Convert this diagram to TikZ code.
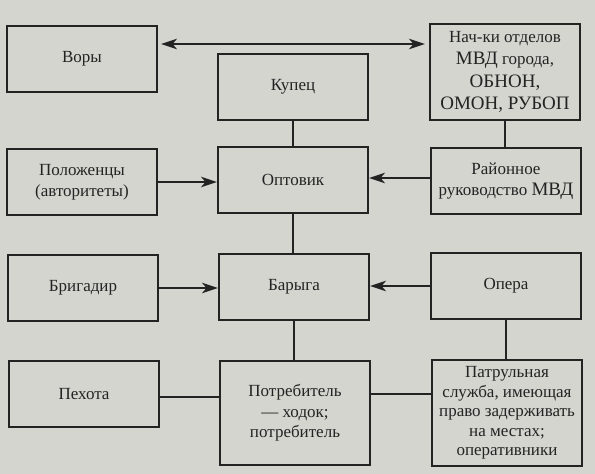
\documentclass[tikz,border=0pt]{standalone}
\usepackage{fontspec}
\setmainfont{Liberation Serif}
\usetikzlibrary{arrows.meta}
\definecolor{paper}{RGB}{212,213,207}
\definecolor{ink}{RGB}{35,35,35}
\begin{document}
\begin{tikzpicture}[x=1pt,y=-1pt,
  box/.style={draw=ink,line width=2pt,fill=paper,minimum width=150pt,inner sep=0pt,
    align=center,font=\fontsize{17}{20.5}\selectfont,text=ink},
  conn/.style={draw=ink,line width=2pt},
  tip/.tip={Stealth[length=16pt,width=10.5pt,inset=4.5pt]},
  arr/.style={conn,-tip},
  darr/.style={conn,tip-tip}]
\fill[paper] (0,0) rectangle (595,474);
\useasboundingbox (0,0) rectangle (595,474);
% left column
\node[box,minimum height=66pt] (vory) at (82,59) {Воры};
\node[box,minimum height=66pt] (pol) at (82,182) {Положенцы\\(авторитеты)};
\node[box,minimum height=66pt] (brig) at (83,288) {Бригадир};
\node[box,minimum height=66pt] (peh) at (84,394) {Пехота};
% middle column
\node[box,minimum height=66pt] (kup) at (293,87) {Купец};
\node[box,minimum height=66pt] (opt) at (293,180) {Оптовик};
\node[box,minimum height=66pt] (bar) at (294,287) {Барыга};
\node[box,minimum height=104pt] (potr) at (295,413) {Потребитель\\— ходок;\\потребитель};
% right column
\node[box,minimum height=96pt,font=\fontsize{17}{22.5}\selectfont] (nach) at (505,72)
  {Нач-ки отделов\\{\fontsize{19}{22.5}\selectfont МВД} города,\\{\fontsize{19}{22.5}\selectfont ОБНОН,}\\{\fontsize{19}{22.5}\selectfont ОМОН, РУБОП}};
\node[box,minimum height=66pt] (rai) at (506,181) {Районное\\руководство {\fontsize{19}{20.5}\selectfont МВД}};
\node[box,minimum height=66pt] (oper) at (506,286) {Опера};
\node[box,minimum height=106pt,font=\fontsize{17}{19.5}\selectfont] (patr) at (507,413)
  {Патрульная\\служба, имеющая\\право задерживать\\на местах;\\оперативники};
% connectors
\draw[darr,shorten <=3pt,shorten >=4pt] ([yshift=15pt]vory.east) -- ([yshift=15pt]vory.east -| nach.west);
\draw[conn] (kup.south) -- (kup.south |- opt.north);
\draw[conn] (opt.south) -- (opt.south |- bar.north);
\draw[conn] (bar.south) -- (bar.south |- potr.north);
\draw[conn] (nach.south) -- (nach.south |- rai.north);
\draw[conn] (oper.south) -- (oper.south |- patr.north);
\draw[arr] (pol.east) -- (pol.east -| opt.west);
\draw[arr] ([yshift=3pt]rai.west) -- ([yshift=3pt]rai.west -| opt.east);
\draw[arr] (brig.east) -- (brig.east -| bar.west);
\draw[arr] (oper.west) -- (oper.west -| bar.east);
\draw[conn] ([yshift=-3pt]peh.east) -- ([yshift=-3pt]peh.east -| potr.west);
\draw[conn] ([yshift=19pt]patr.west) -- ([yshift=19pt]patr.west -| potr.east);
\end{tikzpicture}
\end{document}
